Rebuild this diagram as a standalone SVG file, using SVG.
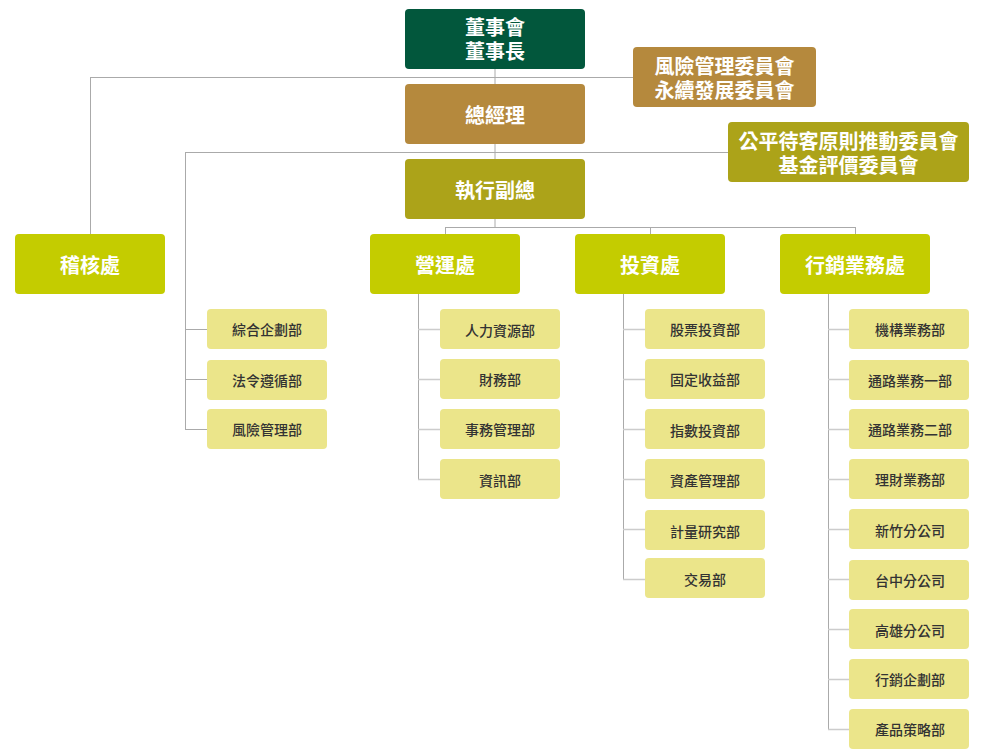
<svg xmlns="http://www.w3.org/2000/svg" width="990" height="755" viewBox="0 0 990 755">
<style>
.t{font-family:"Noto Sans CJK TC","Noto Sans CJK SC",sans-serif;text-anchor:middle;dominant-baseline:central}
.w{fill:#ffffff;font-size:20px;font-weight:700}
.s{fill:#333333;font-size:14px;font-weight:500}
.sub{fill:#ebe58a}
.l1{fill:#c4cc00}
.ln{stroke:#aaaaaa;stroke-width:1;fill:none}
.st{stroke:#cccccc;stroke-width:1.5;fill:none}
</style>
<rect width="990" height="755" fill="#ffffff"/>
<g id="connectors">
<path class="ln" d="M495 69V227M90 77.5H633M90.5 77V234M185 152.5H728M185.5 152V429.5M445 227.5H855M445.5 227V234M650.5 227V234M855.5 227V234"/>
<path class="ln" d="M418.5 294V479.5M623.5 294V579.5M828.5 294V729.5"/>
<path class="ln" d="M185 329.5H207M185 379.5H207M185 429.5H207"/>
<path class="st" d="M418 329.5H440M418 379.5H440M418 429.5H440M418 479.5H440"/>
<path class="st" d="M623 329.5H645M623 379.5H645M623 429.5H645M623 479.5H645M623 529.5H645M623 579.5H645"/>
<path class="st" d="M828 329.5H849M828 379.5H849M828 429.5H849M828 479.5H849M828 529.5H849M828 579.5H849M828 629.5H849M828 679.5H849M828 729.5H849"/>
</g>
<g id="board"><rect x="405" y="9" width="180" height="60" rx="4" fill="#02573c"/><text class="t w"><tspan x="495" y="26">董事會</tspan><tspan x="495" y="50">董事長</tspan></text></g>
<g id="gm"><rect x="405" y="84" width="180" height="60" rx="4" fill="#b5893d"/><text class="t w" x="495" y="114">總經理</text></g>
<g id="evp"><rect x="405" y="159" width="180" height="60" rx="4" fill="#aca319"/><text class="t w" x="495" y="189">執行副總</text></g>
<g id="committee1"><rect x="633" y="47" width="183" height="60" rx="4" fill="#b5893d"/><text class="t w"><tspan x="724.5" y="65">風險管理委員會</tspan><tspan x="724.5" y="89">永續發展委員會</tspan></text></g>
<g id="committee2"><rect x="728" y="122" width="241" height="60" rx="4" fill="#aca319"/><text class="t w"><tspan x="848.5" y="140">公平待客原則推動委員會</tspan><tspan x="848.5" y="164">基金評價委員會</tspan></text></g>
<g id="audit"><rect class="l1" x="15" y="234" width="150" height="60" rx="4"/><text class="t w" x="90" y="264">稽核處</text></g>
<g id="ops"><rect class="l1" x="370" y="234" width="150" height="60" rx="4"/><text class="t w" x="445" y="264">營運處</text></g>
<g id="inv"><rect class="l1" x="575" y="234" width="150" height="60" rx="4"/><text class="t w" x="650" y="264">投資處</text></g>
<g id="mkt"><rect class="l1" x="780" y="234" width="150" height="60" rx="4"/><text class="t w" x="855" y="264">行銷業務處</text></g>
<g id="d1"><rect class="sub" x="207" y="309" width="120" height="40" rx="4"/><text class="t s" x="267" y="329">綜合企劃部</text></g>
<g id="d2"><rect class="sub" x="207" y="360" width="120" height="40" rx="4"/><text class="t s" x="267" y="380">法令遵循部</text></g>
<g id="d3"><rect class="sub" x="207" y="409" width="120" height="40" rx="4"/><text class="t s" x="267" y="429">風險管理部</text></g>
<g id="o1"><rect class="sub" x="440" y="309" width="120" height="40" rx="4"/><text class="t s" x="500" y="330">人力資源部</text></g>
<g id="o2"><rect class="sub" x="440" y="359" width="120" height="40" rx="4"/><text class="t s" x="500" y="379">財務部</text></g>
<g id="o3"><rect class="sub" x="440" y="409" width="120" height="40" rx="4"/><text class="t s" x="500" y="429">事務管理部</text></g>
<g id="o4"><rect class="sub" x="440" y="459" width="120" height="40" rx="4"/><text class="t s" x="500" y="480">資訊部</text></g>
<g id="i1"><rect class="sub" x="645" y="309" width="120" height="40" rx="4"/><text class="t s" x="705" y="329">股票投資部</text></g>
<g id="i2"><rect class="sub" x="645" y="359" width="120" height="40" rx="4"/><text class="t s" x="705" y="379">固定收益部</text></g>
<g id="i3"><rect class="sub" x="645" y="409" width="120" height="40" rx="4"/><text class="t s" x="705" y="430">指數投資部</text></g>
<g id="i4"><rect class="sub" x="645" y="459" width="120" height="40" rx="4"/><text class="t s" x="705" y="480">資產管理部</text></g>
<g id="i5"><rect class="sub" x="645" y="510" width="120" height="40" rx="4"/><text class="t s" x="705" y="531">計量研究部</text></g>
<g id="i6"><rect class="sub" x="645" y="558" width="120" height="40" rx="4"/><text class="t s" x="705" y="579">交易部</text></g>
<g id="m1"><rect class="sub" x="849" y="309" width="120" height="40" rx="4"/><text class="t s" x="910" y="329">機構業務部</text></g>
<g id="m2"><rect class="sub" x="849" y="360" width="120" height="40" rx="4"/><text class="t s" x="910" y="380">通路業務一部</text></g>
<g id="m3"><rect class="sub" x="849" y="409" width="120" height="40" rx="4"/><text class="t s" x="910" y="429">通路業務二部</text></g>
<g id="m4"><rect class="sub" x="849" y="459" width="120" height="40" rx="4"/><text class="t s" x="910" y="479">理財業務部</text></g>
<g id="m5"><rect class="sub" x="849" y="509" width="120" height="40" rx="4"/><text class="t s" x="910" y="530">新竹分公司</text></g>
<g id="m6"><rect class="sub" x="849" y="560" width="120" height="40" rx="4"/><text class="t s" x="910" y="580">台中分公司</text></g>
<g id="m7"><rect class="sub" x="849" y="609" width="120" height="40" rx="4"/><text class="t s" x="910" y="630">高雄分公司</text></g>
<g id="m8"><rect class="sub" x="849" y="659" width="120" height="40" rx="4"/><text class="t s" x="910" y="679">行銷企劃部</text></g>
<g id="m9"><rect class="sub" x="849" y="709" width="120" height="40" rx="4"/><text class="t s" x="910" y="729">產品策略部</text></g>
</svg>
